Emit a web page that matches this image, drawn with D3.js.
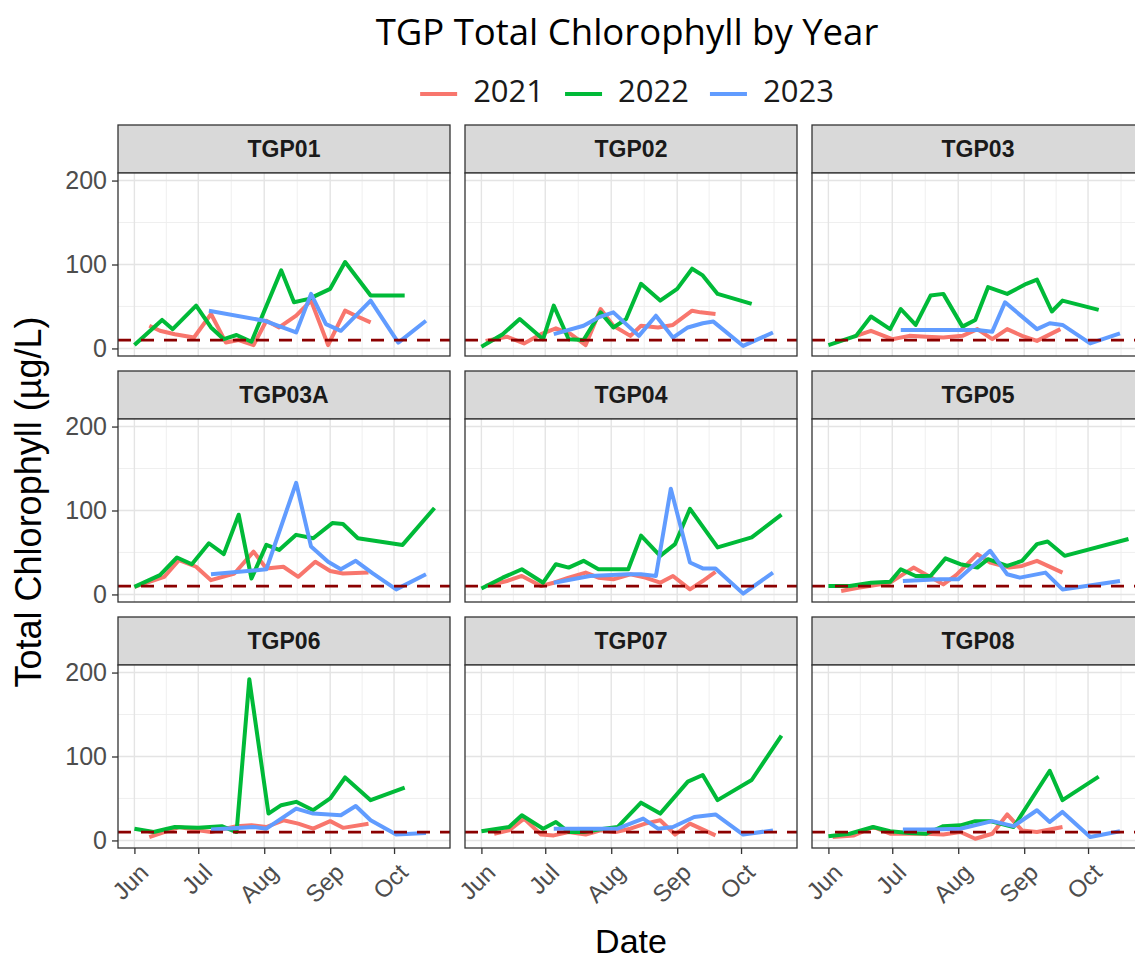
<!DOCTYPE html>
<html>
<head>
<meta charset="utf-8">
<script src="https://cdn.jsdelivr.net/npm/d3@7"></script>
<style>
  body { margin: 0; background: #ffffff; }
  svg { display: block; }
</style>
</head>
<body>
<svg id="chart" width="1135" height="959"></svg>
<script>
// ---- Data -------------------------------------------------------------
const sites = ["TGP01", "TGP02", "TGP03", "TGP03A", "TGP04", "TGP05", "TGP06", "TGP07", "TGP08"];
const years = [2021, 2022, 2023];
const yearColors = ["#F8766D", "#00BA38", "#619CFF"];
const monthTicks = ["06-01", "07-01", "08-01", "09-01", "10-01"];
const monthLabels = ["Jun", "Jul", "Aug", "Sep", "Oct"];
const yTicks = [0, 100, 200];
const threshold = 10; // reference level, µg/L

// Sampling results per site and season: [month-day, total chlorophyll µg/L]
const TGP01_2021 = [["06-08",27],["06-13",21],["06-20",17],["06-29",13],["07-07",41],["07-14",7],["07-20",10],["07-27",4],["08-02",33],["08-08",25],["08-16",39],["08-23",57],["08-31",4],["09-08",45],["09-13",39],["09-20",31]];
const TGP01_2022 = [["06-01",4],["06-14",34],["06-19",23],["06-30",51],["07-07",25],["07-13",11],["07-19",16],["07-26",8],["08-09",93],["08-15",55],["08-22",59],["09-01",71],["09-08",103],["09-20",63],["10-06",63]];
const TGP01_2023 = [["07-06",45],["08-01",33],["08-16",19],["08-23",65],["08-30",29],["09-06",21],["09-20",57],["10-03",7],["10-16",33]];

const TGP02_2021 = [["06-03",9],["06-13",14],["06-21",6],["06-29",17],["07-06",24],["07-13",17],["07-20",4],["07-27",47],["08-02",27],["08-10",15],["08-15",27],["08-23",25],["08-30",28],["09-08",45],["09-12",43],["09-19",41]];
const TGP02_2022 = [["06-01",2],["06-11",17],["06-19",35],["06-30",11],["07-05",51],["07-12",11],["07-19",10],["07-27",43],["08-02",25],["08-08",35],["08-15",77],["08-24",57],["09-01",71],["09-08",95],["09-13",87],["09-20",65],["10-06",53]];
const TGP02_2023 = [["07-05",17],["07-19",27],["07-26",37],["08-02",43],["08-14",15],["08-22",39],["08-30",13],["09-06",25],["09-13",30],["09-18",32],["10-02",3],["10-16",19]];

const TGP03_2021 = [["06-13",14],["06-21",21],["07-01",11],["07-09",15],["07-17",14],["07-25",13],["08-03",15],["08-10",23],["08-17",11],["08-24",23],["08-31",15],["09-07",9],["09-18",23]];
const TGP03_2022 = [["06-01",4],["06-14",15],["06-21",38],["06-30",23],["07-05",47],["07-12",28],["07-19",63],["07-25",65],["08-03",26],["08-09",34],["08-15",73],["08-24",65],["09-02",77],["09-07",82],["09-14",44],["09-19",57],["10-06",46]];
const TGP03_2023 = [["07-05",22],["08-10",22],["08-17",20],["08-23",55],["08-30",40],["09-07",23],["09-13",30],["09-19",28],["10-02",6],["10-16",18]];

const TGP03A_2021 = [["06-01",9],["06-15",21],["06-22",41],["06-30",33],["07-07",17],["07-18",25],["07-27",51],["08-02",31],["08-10",33],["08-17",21],["08-25",39],["09-01",28],["09-07",25],["09-19",26]];
const TGP03A_2022 = [["06-01",9],["06-13",23],["06-21",44],["06-28",36],["07-06",61],["07-13",48],["07-20",95],["07-26",19],["08-02",59],["08-08",53],["08-16",71],["08-24",67],["09-02",85],["09-07",84],["09-14",67],["10-05",59],["10-20",103]];
const TGP03A_2023 = [["07-07",24],["08-02",30],["08-16",133],["08-23",57],["08-31",39],["09-06",30],["09-13",40],["09-21",25],["10-02",6],["10-16",24]];

const TGP04_2021 = [["06-03",10],["06-13",16],["06-20",22],["06-29",10],["07-05",14],["07-12",20],["07-20",26],["07-26",20],["08-02",18],["08-10",24],["08-17",20],["08-24",14],["08-30",22],["09-07",6],["09-13",16],["09-19",27]];
const TGP04_2022 = [["06-01",7],["06-11",20],["06-20",30],["06-30",14],["07-06",36],["07-12",32],["07-19",40],["07-26",30],["08-09",30],["08-15",70],["08-24",46],["08-31",60],["09-07",102],["09-20",56],["10-06",68],["10-20",95]];
const TGP04_2023 = [["07-05",14],["07-22",22],["08-09",24],["08-15",24],["08-22",22],["08-29",126],["09-07",38],["09-13",31],["09-19",31],["10-02",1],["10-16",26]];

const TGP05_2021 = [["06-07",4],["06-15",8],["06-30",14],["07-11",32],["07-18",22],["07-25",12],["07-31",23],["08-10",48],["08-16",38],["08-25",32],["08-31",34],["09-07",40],["09-19",26]];
const TGP05_2022 = [["06-01",10],["06-11",10],["06-21",14],["06-30",15],["07-05",30],["07-12",22],["07-19",22],["07-26",43],["08-02",36],["08-10",32],["08-15",42],["08-24",34],["08-31",40],["09-07",60],["09-12",63],["09-20",46],["10-20",66]];
const TGP05_2023 = [["07-06",16],["07-23",18],["08-01",18],["08-16",52],["08-24",24],["08-30",20],["09-11",26],["09-19",6],["10-16",16]];

const TGP06_2021 = [["06-08",4],["06-15",10],["06-22",16],["07-01",12],["07-07",10],["07-19",17],["07-26",18],["08-02",16],["08-10",24],["08-17",20],["08-24",14],["09-01",23],["09-07",15],["09-19",20]];
const TGP06_2022 = [["06-01",14],["06-10",10],["06-20",16],["07-01",15],["07-12",17],["07-19",10],["07-25",192],["08-03",32],["08-09",42],["08-16",46],["08-24",36],["09-01",50],["09-08",75],["09-20",48],["10-06",63]];
const TGP06_2023 = [["07-07",13],["07-27",16],["08-02",14],["08-16",38],["08-24",32],["09-06",30],["09-13",41],["09-20",24],["10-02",7],["10-16",9]];

const TGP07_2021 = [["06-07",8],["06-14",12],["06-21",26],["06-29",7],["07-05",6],["07-12",10],["07-20",7],["07-27",12],["08-03",10],["08-10",14],["08-17",20],["08-24",24],["08-31",7],["09-07",20],["09-19",6]];
const TGP07_2022 = [["06-01",11],["06-14",16],["06-20",30],["06-30",14],["07-06",22],["07-12",10],["07-19",10],["07-26",13],["08-04",16],["08-15",45],["08-24",32],["09-06",70],["09-13",78],["09-20",48],["10-06",72],["10-20",125]];
const TGP07_2023 = [["07-05",14],["07-19",14],["08-04",14],["08-16",26],["08-23",14],["08-30",16],["09-09",28],["09-19",31],["10-02",7],["10-16",12]];

const TGP08_2021 = [["06-03",4],["06-13",6],["06-22",16],["06-30",8],["07-08",8],["07-17",8],["07-25",7],["08-02",10],["08-09",2],["08-17",8],["08-24",31],["08-31",12],["09-07",10],["09-19",16]];
const TGP08_2022 = [["06-01",5],["06-11",8],["06-22",16],["06-30",11],["07-09",9],["07-17",8],["07-25",17],["08-02",18],["08-09",23],["08-16",23],["08-27",16],["09-13",83],["09-19",48],["10-06",76]];
const TGP08_2023 = [["07-06",13],["07-19",13],["08-02",14],["08-17",23],["08-27",17],["09-07",36],["09-13",22],["09-19",34],["10-02",4],["10-16",11]];

const seriesBySite = {
  TGP01: [TGP01_2021, TGP01_2022, TGP01_2023],
  TGP02: [TGP02_2021, TGP02_2022, TGP02_2023],
  TGP03: [TGP03_2021, TGP03_2022, TGP03_2023],
  TGP03A: [TGP03A_2021, TGP03A_2022, TGP03A_2023],
  TGP04: [TGP04_2021, TGP04_2022, TGP04_2023],
  TGP05: [TGP05_2021, TGP05_2022, TGP05_2023],
  TGP06: [TGP06_2021, TGP06_2022, TGP06_2023],
  TGP07: [TGP07_2021, TGP07_2022, TGP07_2023],
  TGP08: [TGP08_2021, TGP08_2022, TGP08_2023]
};

// ---- Layout -----------------------------------------------------------
const svg = d3.select("#chart");
const panelW = 332, plotH = 183, stripH = 48, gapX = 15, gapY = 15;
const gridLeft = 118, gridTop = 125;
const nCols = 3;
const axisFont = "'Liberation Sans', Arial, Helvetica, sans-serif";
const headFont = "'Open Sans', 'Liberation Sans', Arial, sans-serif";

// All seasons share one calendar axis (month/day)
const baseYear = 2021;
const parseDay = d3.timeParse("%Y-%m-%d");
const onAxis = md => parseDay(`${baseYear}-${md}`);

const x = d3.scaleTime()
  .domain([new Date(baseYear, 4, 24, 7), new Date(baseYear, 9, 27, 7)])
  .range([0, panelW]);
const y = d3.scaleLinear().domain([-9, 209]).range([plotH, 0]);
const color = d3.scaleOrdinal().domain(years).range(yearColors);

const monthDates = monthTicks.map(onAxis);
// minor breaks halfway between month starts
const monthStarts = d3.timeMonth.range(new Date(baseYear, 4, 1), new Date(baseYear, 11, 1));
const minorX = d3.pairs(monthStarts)
  .map(([a, b]) => new Date((+a + +b) / 2))
  .filter(d => d >= x.domain()[0] && d <= x.domain()[1]);
const minorY = d3.pairs(yTicks).map(([a, b]) => (a + b) / 2);

const line = d3.line()
  .x(d => x(d.date))
  .y(d => y(d.value));

// ---- Title & legend ---------------------------------------------------
const centerX = 627;
svg.append("text")
  .attr("x", centerX).attr("y", 45)
  .attr("text-anchor", "middle")
  .attr("font-family", headFont)
  .attr("font-size", 36.5)
  .attr("fill", "#000")
  .text("TGP Total Chlorophyll by Year");

const legend = svg.append("g");
const keyW = 37, keyGap = 16, itemGap = 21;
let lx = 0;
years.forEach(yr => {
  const g = legend.append("g").attr("transform", `translate(${lx},0)`);
  g.append("line")
    .attr("x1", 0).attr("x2", keyW)
    .attr("y1", 3).attr("y2", 3)
    .attr("stroke", color(yr))
    .attr("stroke-width", 4);
  const t = g.append("text")
    .attr("x", keyW + keyGap).attr("y", 0)
    .attr("dy", "0.36em")
    .attr("font-family", headFont)
    .attr("font-size", 31)
    .attr("fill", "#1a1a1a")
    .text(yr);
  lx += keyW + keyGap + t.node().getComputedTextLength() + itemGap;
});
const legendW = lx - itemGap;
legend.attr("transform", `translate(${centerX - legendW / 2},91)`);

// ---- Panels -----------------------------------------------------------
sites.forEach((site, si) => {
  const col = si % nCols, row = Math.floor(si / nCols);
  const px = gridLeft + col * (panelW + gapX);
  const py = gridTop + row * (stripH + plotH + gapY);
  const panel = svg.append("g").attr("transform", `translate(${px},${py})`);

  // strip
  panel.append("rect")
    .attr("width", panelW).attr("height", stripH)
    .attr("fill", "#D9D9D9")
    .attr("stroke", "#333333").attr("stroke-width", 1.3);
  panel.append("text")
    .attr("x", panelW / 2).attr("y", stripH / 2)
    .attr("dy", "0.36em")
    .attr("text-anchor", "middle")
    .attr("font-family", axisFont)
    .attr("font-weight", "bold")
    .attr("font-size", 23)
    .attr("fill", "#1a1a1a")
    .text(site);

  const plot = panel.append("g").attr("transform", `translate(0,${stripH})`);
  plot.append("rect")
    .attr("width", panelW).attr("height", plotH)
    .attr("fill", "#ffffff");

  // grid
  const grid = plot.append("g");
  grid.selectAll(".gx-minor").data(minorX).join("line")
    .attr("x1", d => x(d)).attr("x2", d => x(d))
    .attr("y1", 0).attr("y2", plotH)
    .attr("stroke", "#EDEDED").attr("stroke-width", 0.9);
  grid.selectAll(".gy-minor").data(minorY).join("line")
    .attr("x1", 0).attr("x2", panelW)
    .attr("y1", d => y(d)).attr("y2", d => y(d))
    .attr("stroke", "#EDEDED").attr("stroke-width", 0.9);
  grid.selectAll(".gx-major").data(monthDates).join("line")
    .attr("x1", d => x(d)).attr("x2", d => x(d))
    .attr("y1", 0).attr("y2", plotH)
    .attr("stroke", "#E4E4E4").attr("stroke-width", 1.4);
  grid.selectAll(".gy-major").data(yTicks).join("line")
    .attr("x1", 0).attr("x2", panelW)
    .attr("y1", d => y(d)).attr("y2", d => y(d))
    .attr("stroke", "#E4E4E4").attr("stroke-width", 1.4);

  // clip for data marks
  const clipId = `clip-${site}`;
  plot.append("clipPath").attr("id", clipId)
    .append("rect").attr("width", panelW).attr("height", plotH);
  const marks = plot.append("g").attr("clip-path", `url(#${clipId})`);

  // seasons drawn oldest first so the latest sits on top
  seriesBySite[site].forEach((rows, yi) => {
    const yr = years[yi];
    const pts = rows.map(([md, v]) => ({ date: onAxis(md), value: v }));
    marks.append("path")
      .datum(pts)
      .attr("d", line)
      .attr("fill", "none")
      .attr("stroke", color(yr))
      .attr("stroke-width", 4)
      .attr("stroke-linejoin", "round")
      .attr("stroke-linecap", "butt");
  });

  // reference level
  marks.append("line")
    .attr("x1", 0).attr("x2", panelW)
    .attr("y1", y(threshold)).attr("y2", y(threshold))
    .attr("stroke", "#8B0000")
    .attr("stroke-width", 2.8)
    .attr("stroke-dasharray", "13,10");

  // border
  plot.append("rect")
    .attr("width", panelW).attr("height", plotH)
    .attr("fill", "none")
    .attr("stroke", "#333333").attr("stroke-width", 1.3);

  // y axis on first column
  if (col === 0) {
    const ya = plot.append("g")
      .call(d3.axisLeft(y).tickValues(yTicks).tickSize(6).tickPadding(5));
    ya.select(".domain").remove();
    ya.selectAll(".tick line").attr("stroke", "#333333").attr("stroke-width", 1.3);
    ya.selectAll(".tick text")
      .attr("font-family", axisFont)
      .attr("font-size", 25)
      .attr("fill", "#4D4D4D");
  }

  // x axis on last row
  if (row === 2) {
    const xa = plot.append("g")
      .attr("transform", `translate(0,${plotH})`)
      .call(d3.axisBottom(x).tickValues(monthDates)
        .tickFormat((d, i) => monthLabels[i]).tickSize(6));
    xa.select(".domain").remove();
    xa.selectAll(".tick line").attr("stroke", "#333333").attr("stroke-width", 1.3);
    xa.selectAll(".tick text")
      .attr("font-family", axisFont)
      .attr("font-size", 24)
      .attr("fill", "#4D4D4D")
      .attr("text-anchor", "end")
      .attr("x", 0).attr("y", 0).attr("dy", 0)
      .attr("transform", "translate(15,26) rotate(-45)");
  }
});

// ---- Axis titles ------------------------------------------------------
svg.append("text")
  .attr("transform", "translate(41,502) rotate(-90)")
  .attr("text-anchor", "middle")
  .attr("font-family", axisFont)
  .attr("font-size", 36)
  .attr("fill", "#000")
  .text("Total Chlorophyll (µg/L)");

svg.append("text")
  .attr("x", gridLeft + (nCols * panelW + (nCols - 1) * gapX) / 2)
  .attr("y", 953)
  .attr("text-anchor", "middle")
  .attr("font-family", axisFont)
  .attr("font-size", 34)
  .attr("fill", "#000")
  .text("Date");
</script>
</body>
</html>
